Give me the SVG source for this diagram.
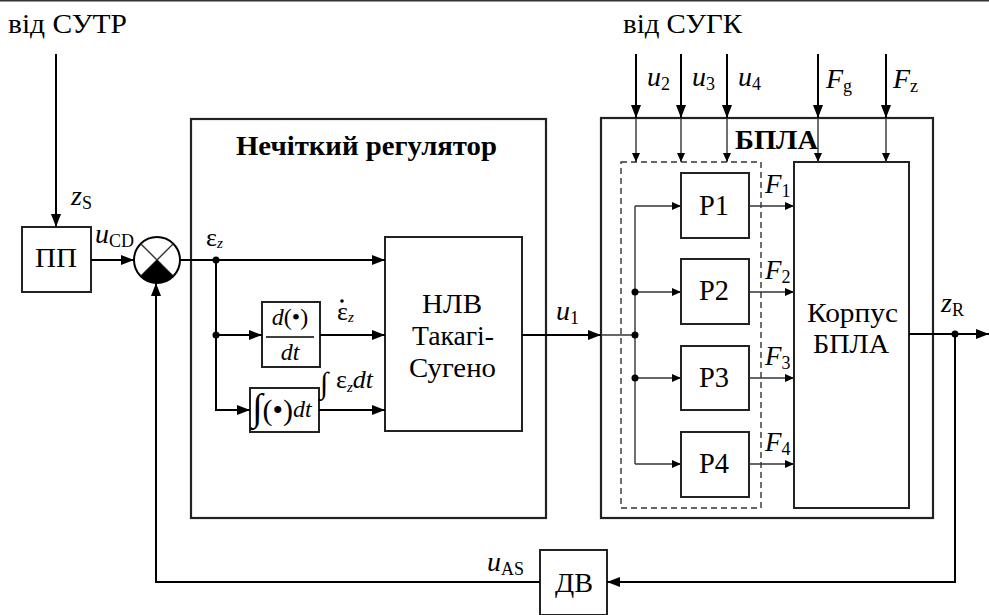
<svg xmlns="http://www.w3.org/2000/svg" width="989" height="615" viewBox="0 0 989 615">
<defs>
<marker id="ab" markerUnits="userSpaceOnUse" markerWidth="14" markerHeight="10" refX="13" refY="5" orient="auto">
<path d="M0,0 L13,5 L0,10 z" fill="#000"/>
</marker>
<marker id="as" markerUnits="userSpaceOnUse" markerWidth="10" markerHeight="8" refX="9" refY="4" orient="auto">
<path d="M0,0 L9,4 L0,8 z" fill="#000"/>
</marker>
<style>
text{font-family:"Liberation Serif","Times New Roman",serif;fill:#000}
.box{fill:#fff;stroke:#222;stroke-width:2}
.big{fill:none;stroke:#222;stroke-width:2.2}
.ln{fill:none;stroke:#000;stroke-width:2}
.th{fill:none;stroke:#333;stroke-width:1.4}
.dash{fill:none;stroke:#333;stroke-width:1.4;stroke-dasharray:6,4}
.lbl{font-size:27px}
.blk{font-size:29px}
.var{font-size:28px;font-style:italic}
.sub{font-size:18px;font-style:normal}
.dot{fill:#000}
</style>
</defs>
<line x1="0" y1="0.8" x2="989" y2="0.8" stroke="#333" stroke-width="1.6"/>

<g id="texts-top">
<text x="8" y="33" class="lbl" textLength="119" lengthAdjust="spacingAndGlyphs">від СУТР</text>
<text x="623" y="33" class="lbl" textLength="119" lengthAdjust="spacingAndGlyphs">від СУГК</text>
</g>

<g id="fuzzy">
<rect x="191" y="119" width="355" height="399" class="big"/>
<text x="236" y="155" font-size="28" font-weight="bold" textLength="261" lengthAdjust="spacingAndGlyphs">Нечіткий регулятор</text>
</g>

<g id="uav">
<rect x="601" y="118" width="332" height="400" class="big"/>
<text x="735" y="149" font-size="27" font-weight="bold" textLength="83" lengthAdjust="spacingAndGlyphs">БПЛА</text>
<rect x="621" y="162" width="140" height="346" class="dash"/>
</g>

<g id="pp">
<rect x="22" y="227" width="69" height="65" class="box"/>
<text x="35" y="267" class="lbl" textLength="42" lengthAdjust="spacingAndGlyphs">ПП</text>
</g>

<g id="sum">
<circle cx="157" cy="260" r="23" fill="#fff" stroke="#000" stroke-width="2"/>
<line x1="140.7" y1="243.7" x2="173.3" y2="276.3" class="th"/>
<line x1="173.3" y1="243.7" x2="140.7" y2="276.3" class="th"/>
<path d="M157,260 L173.3,276.3 A23,23 0 0 1 140.7,276.3 Z" fill="#000"/>
</g>

<g id="deriv">
<rect x="262" y="302" width="58" height="65" class="box"/>
<text x="290" y="325" font-size="24" text-anchor="middle"><tspan font-style="italic">d</tspan><tspan>(•)</tspan></text>
<line x1="266" y1="337" x2="314" y2="337" stroke="#000" stroke-width="1.3"/>
<text x="290" y="360" font-size="24" font-style="italic" text-anchor="middle">dt</text>
</g>

<g id="integ">
<rect x="250" y="388" width="69" height="44" class="box"/>
<text x="252" y="420"><tspan font-size="38">∫</tspan><tspan font-size="30">(•)</tspan><tspan font-size="24" font-style="italic" dy="-3">dt</tspan></text>
</g>

<g id="nlv">
<rect x="385" y="237" width="137" height="194" class="box"/>
<text x="422" y="313" class="lbl" textLength="60" lengthAdjust="spacingAndGlyphs">НЛВ</text>
<text x="412" y="345" class="lbl" textLength="82" lengthAdjust="spacingAndGlyphs">Такагі-</text>
<text x="409" y="377" class="lbl" textLength="87" lengthAdjust="spacingAndGlyphs">Сугено</text>
</g>

<g id="p1">
<rect x="681" y="173" width="68" height="65" class="box"/>
<text x="699" y="215" class="blk" textLength="30" lengthAdjust="spacingAndGlyphs">Р1</text>
</g>
<g id="p2">
<rect x="681" y="259" width="68" height="65" class="box"/>
<text x="699" y="300" class="blk" textLength="30" lengthAdjust="spacingAndGlyphs">Р2</text>
</g>
<g id="p3">
<rect x="681" y="346" width="68" height="64" class="box"/>
<text x="699" y="387" class="blk" textLength="30" lengthAdjust="spacingAndGlyphs">Р3</text>
</g>
<g id="p4">
<rect x="681" y="432" width="68" height="65" class="box"/>
<text x="699" y="473" class="blk" textLength="30" lengthAdjust="spacingAndGlyphs">Р4</text>
</g>

<g id="korpus">
<rect x="794" y="162" width="115" height="346" class="box" stroke-width="1.6"/>
<text x="807" y="322" class="lbl" textLength="91" lengthAdjust="spacingAndGlyphs">Корпус</text>
<text x="813" y="353" class="lbl" textLength="76" lengthAdjust="spacingAndGlyphs">БПЛА</text>
</g>

<g id="dv">
<rect x="540" y="550" width="67" height="65" class="box"/>
<text x="555" y="592" class="lbl" textLength="38" lengthAdjust="spacingAndGlyphs">ДВ</text>
</g>

<g id="connectors">
<line x1="56" y1="54" x2="56" y2="227" class="ln" marker-end="url(#ab)"/>
<line x1="91" y1="260" x2="134" y2="260" class="ln" marker-end="url(#ab)"/>
<line x1="180" y1="260" x2="385" y2="260" class="ln" marker-end="url(#ab)"/>
<polyline points="216,260 216,410 250,410" class="ln" marker-end="url(#ab)"/>
<line x1="216" y1="335" x2="262" y2="335" class="ln" marker-end="url(#ab)"/>
<line x1="320" y1="335" x2="385" y2="335" class="ln" marker-end="url(#ab)"/>
<line x1="319" y1="410" x2="385" y2="410" class="ln" marker-end="url(#ab)"/>
<circle cx="216" cy="260" r="3.5" class="dot"/>
<circle cx="216" cy="335" r="3.5" class="dot"/>
<line x1="522" y1="335" x2="601" y2="335" class="ln" marker-end="url(#ab)"/>
<line x1="601" y1="335" x2="635" y2="335" class="th"/>
<line x1="635" y1="206" x2="635" y2="464" class="th"/>
<line x1="635" y1="206" x2="681" y2="206" class="th" marker-end="url(#as)"/>
<line x1="635" y1="292" x2="681" y2="292" class="th" marker-end="url(#as)"/>
<line x1="635" y1="378" x2="681" y2="378" class="th" marker-end="url(#as)"/>
<line x1="635" y1="464" x2="681" y2="464" class="th" marker-end="url(#as)"/>
<circle cx="635" cy="292" r="3.5" class="dot"/>
<circle cx="635" cy="335" r="3.5" class="dot"/>
<circle cx="635" cy="378" r="3.5" class="dot"/>
<line x1="749" y1="206" x2="794" y2="206" class="th" marker-end="url(#as)"/>
<line x1="749" y1="292" x2="794" y2="292" class="th" marker-end="url(#as)"/>
<line x1="749" y1="378" x2="794" y2="378" class="th" marker-end="url(#as)"/>
<line x1="749" y1="464" x2="794" y2="464" class="th" marker-end="url(#as)"/>
<line x1="636" y1="54" x2="636" y2="118" class="ln" marker-end="url(#ab)"/>
<line x1="681" y1="54" x2="681" y2="118" class="ln" marker-end="url(#ab)"/>
<line x1="727" y1="54" x2="727" y2="118" class="ln" marker-end="url(#ab)"/>
<line x1="818" y1="54" x2="818" y2="118" class="ln" marker-end="url(#ab)"/>
<line x1="886" y1="54" x2="886" y2="118" class="ln" marker-end="url(#ab)"/>
<line x1="636" y1="118" x2="636" y2="162" class="th" marker-end="url(#as)"/>
<line x1="681" y1="118" x2="681" y2="162" class="th" marker-end="url(#as)"/>
<line x1="727" y1="118" x2="727" y2="162" class="th" marker-end="url(#as)"/>
<line x1="818" y1="118" x2="818" y2="162" class="th" marker-end="url(#as)"/>
<line x1="886" y1="118" x2="886" y2="162" class="th" marker-end="url(#as)"/>
<line x1="909" y1="334" x2="989" y2="334" class="ln" marker-end="url(#ab)"/>
<circle cx="955" cy="334" r="3.5" class="dot"/>
<polyline points="955,334 955,582 607,582" class="ln" marker-end="url(#ab)"/>
<polyline points="540,582 156,582 156,283" class="ln" marker-end="url(#ab)"/>
</g>

<g id="labels">
<text x="71" y="205" class="var">z<tspan class="sub" dy="4">S</tspan></text>
<text x="95" y="243" class="var">u<tspan class="sub" dy="4">CD</tspan></text>
<text x="206" y="246" font-size="26">ε<tspan font-size="15" font-style="italic" dy="2">z</tspan></text>
<text x="337" y="320" font-size="26">ε<tspan font-size="15" font-style="italic" dy="2">z</tspan></text>
<circle cx="342" cy="301" r="1.8" class="dot"/>
<text x="320" y="393" font-size="30">∫</text>
<text x="336" y="388" font-size="26">ε<tspan font-size="15" font-style="italic" dy="4">z</tspan><tspan font-style="italic" font-size="26" dy="-4">dt</tspan></text>
<text x="556" y="320" class="var">u<tspan class="sub" dy="4">1</tspan></text>
<text x="647" y="86" class="var">u<tspan class="sub" dy="4">2</tspan></text>
<text x="692" y="86" class="var">u<tspan class="sub" dy="4">3</tspan></text>
<text x="738" y="86" class="var">u<tspan class="sub" dy="4">4</tspan></text>
<text x="826" y="88" class="var">F<tspan class="sub" dy="4">g</tspan></text>
<text x="893" y="88" class="var">F<tspan class="sub" dy="4">z</tspan></text>
<text x="765" y="193" font-size="27" font-style="italic">F<tspan class="sub" dy="4">1</tspan></text>
<text x="765" y="279" font-size="27" font-style="italic">F<tspan class="sub" dy="4">2</tspan></text>
<text x="765" y="365" font-size="27" font-style="italic">F<tspan class="sub" dy="4">3</tspan></text>
<text x="765" y="451" font-size="27" font-style="italic">F<tspan class="sub" dy="4">4</tspan></text>
<text x="941" y="312" class="var">z<tspan class="sub" dy="4">R</tspan></text>
<text x="487" y="571" class="var">u<tspan class="sub" dy="4">AS</tspan></text>
</g>
</svg>
